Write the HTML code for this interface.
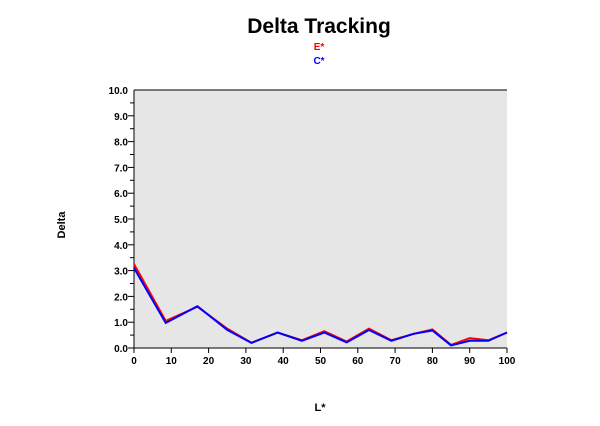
<!DOCTYPE html>
<html><head><meta charset="utf-8"><style>
body{margin:0;background:#fff;font-family:"Liberation Sans",Arial,sans-serif}
</style></head><body>
<svg width="600" height="421" xmlns="http://www.w3.org/2000/svg" font-family="Liberation Sans, Arial, sans-serif">
<text x="319" y="33" text-anchor="middle" font-size="21" font-weight="bold">Delta Tracking</text>
<text x="319" y="50" text-anchor="middle" font-size="10" font-weight="bold" fill="#f00">E*</text>
<text x="319" y="64" text-anchor="middle" font-size="10" font-weight="bold" fill="#00f">C*</text>
<rect x="134" y="90" width="373" height="258" fill="#e6e6e6"/>
<g id="axes"></g>
<g id="series"></g>
<text x="65" y="225" text-anchor="middle" font-size="11" font-weight="bold" transform="rotate(-90 65 225)">Delta</text>
<text x="320" y="411" text-anchor="middle" font-size="11" font-weight="bold">L*</text>
<script>
const xs=[0,8.5,17,25,31.5,38.5,45,51,57,63,69,75,80,85,90,95,100];
const eVals=[3.25,1.05,1.6,0.75,0.2,0.6,0.3,0.65,0.25,0.75,0.3,0.55,0.72,0.12,0.38,0.3,0.6];
const cVals=[3.1,0.97,1.62,0.7,0.2,0.6,0.28,0.6,0.22,0.7,0.28,0.55,0.68,0.1,0.28,0.28,0.6];
const yTicks=[0,1,2,3,4,5,6,7,8,9,10];
const xTicks=[0,10,20,30,40,50,60,70,80,90,100];
const NS="http://www.w3.org/2000/svg";
const X=v=>134+v*3.73, Y=v=>348-v*25.8;
const ax=document.getElementById('axes'), se=document.getElementById('series');
function mk(t,a,p){const e=document.createElementNS(NS,t);for(const k in a)e.setAttribute(k,a[k]);p.appendChild(e);return e;}
let l=mk('line',{x1:134,y1:90,x2:134,y2:348,stroke:'#000'},ax);


l=mk('line',{x1:134,y1:348,x2:507,y2:348,stroke:'#000'},ax);


l=mk('line',{x1:134,y1:90,x2:507,y2:90,stroke:'#000'},ax);


for(let i=0;i<20;i++){const y=Y(i*0.5);mk('line',{x1:i%2?130:128,y1:y,x2:134,y2:y,stroke:'#000'},ax);}
yTicks.forEach(v=>{const t=mk('text',{x:128,y:Y(v)+4,'text-anchor':'end','font-size':10,'font-weight':'bold'},ax);t.textContent=v.toFixed(1);

});
xTicks.forEach(v=>{mk('line',{x1:X(v),y1:348,x2:X(v),y2:353,stroke:'#000'},ax);const t=mk('text',{x:X(v),y:364,'text-anchor':'middle','font-size':10,'font-weight':'bold'},ax);t.textContent=v;

});
[[eVals,'#f00','series-e-line'],[cVals,'#00f','series-c-line']].forEach(([vals,c,n])=>{
const p=mk('polyline',{points:vals.map((v,i)=>X(xs[i])+','+Y(v)).join(' '),fill:'none',stroke:c,'stroke-width':2},se);

});
</script>
</svg>
</body></html>
